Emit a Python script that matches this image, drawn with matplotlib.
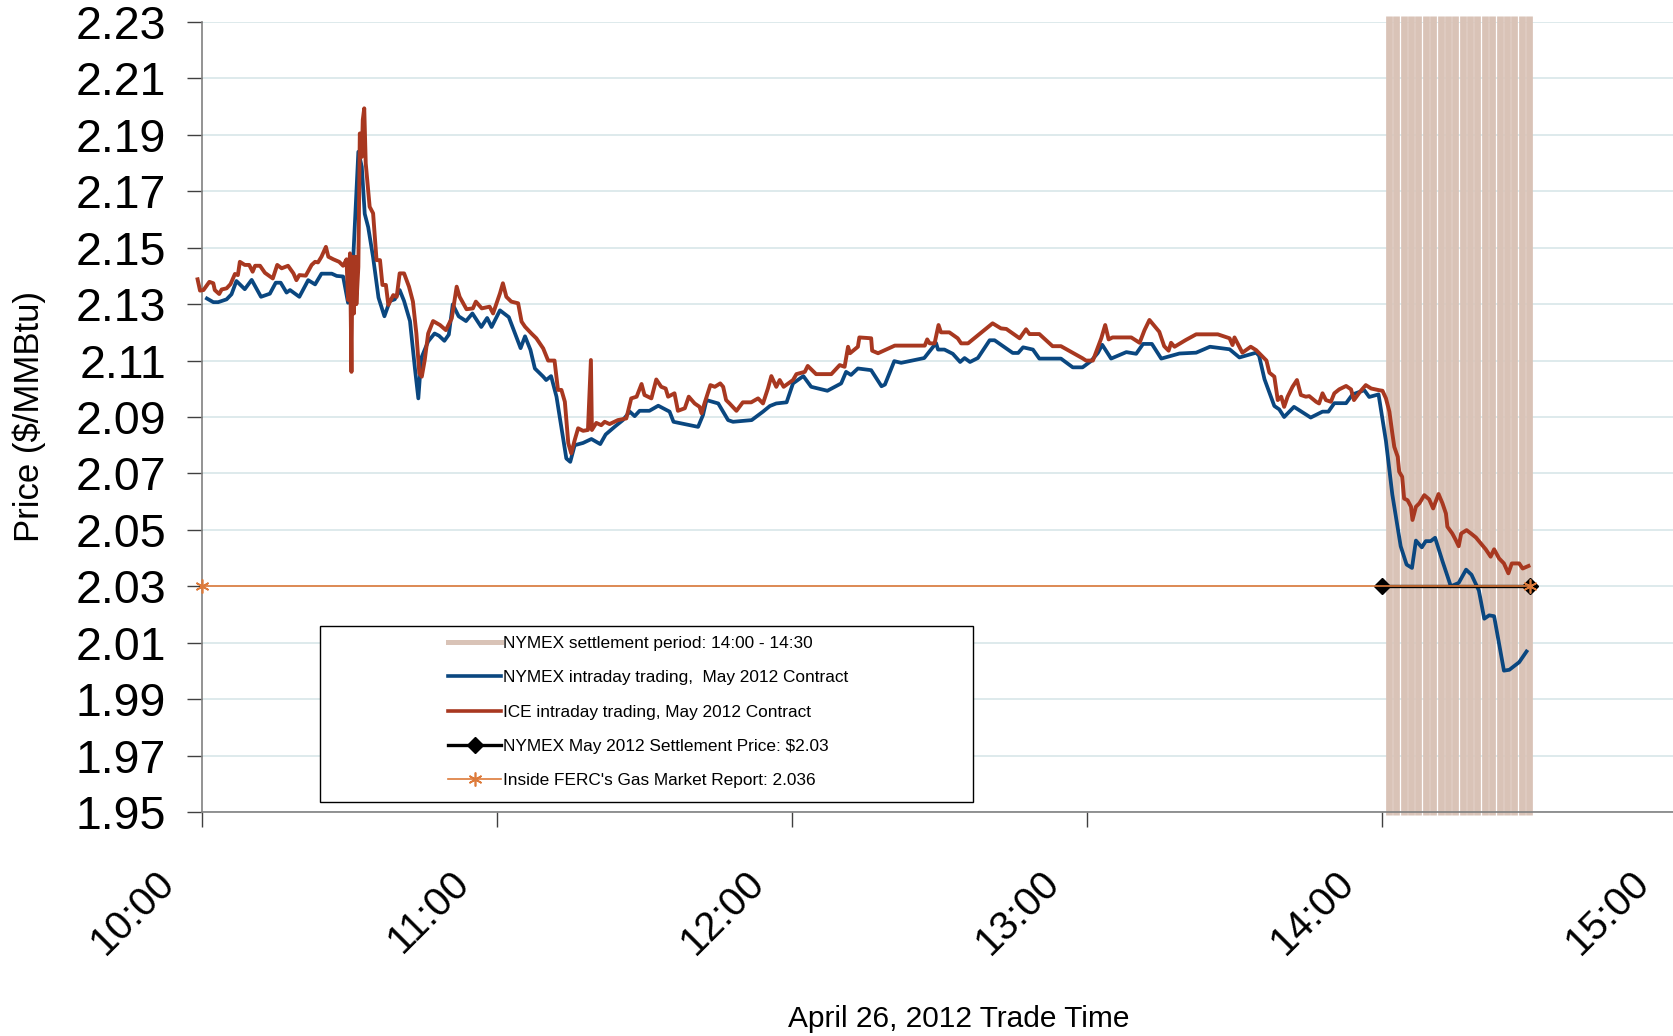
import matplotlib
matplotlib.use("Agg")
import matplotlib.pyplot as plt
import matplotlib.dates as md
import matplotlib.transforms as mtransforms
from matplotlib.lines import Line2D
from matplotlib.patches import Rectangle
import numpy as np
import pandas as pd

plt.rcParams["font.family"] = ["Liberation Sans", "DejaVu Sans"]

# trade day start, all times below are minutes after 10:00
day_start = pd.Timestamp("2012-04-26 10:00")

nymex_min = [1.0, 2.3, 3.3, 5.0, 6.0, 7.0, 8.7, 10.1, 12.0, 13.8, 15.0, 16.0, 17.2, 17.9, 19.8,
             21.6, 23.0, 24.3, 26.4, 27.4, 28.7, 29.7, 30.8, 31.8, 32.5, 33.1, 33.8, 34.8, 35.9,
             37.1, 38.2, 39.2, 40.2, 41.1, 42.3, 43.3, 44.0, 44.6, 46.0, 47.3, 48.2, 49.3, 50.2,
             51.0, 52.2, 53.7, 55.0, 56.8, 58.0, 58.9, 60.6, 62.4, 64.8, 65.7, 66.8, 67.7, 69.4,
             70.0, 71.0, 72.1, 73.4, 74.1, 74.9, 75.8, 77.5, 79.2, 81.0, 82.1, 83.9, 85.6, 87.0,
             88.0, 89.0, 91.0, 92.8, 95.1, 95.9, 100.9, 101.9, 102.6, 105.0, 107.0, 108.0, 111.8,
             114.1, 115.5, 116.8, 118.9, 120.2, 122.3, 123.9, 124.6, 127.2, 130.0, 131.0, 132.0,
             133.4, 136.1, 138.2, 138.9, 140.8, 142.2, 146.9, 149.3, 149.7, 151.0, 152.7, 154.2,
             155.1, 156.2, 157.8, 160.2, 161.2, 164.9, 166.0, 167.0, 169.0, 170.3, 174.7, 177.1,
             179.1, 180.8, 182.2, 183.1, 184.9, 188.0, 190.0, 191.4, 193.2, 195.1, 198.8, 202.2,
             205.0, 209.0, 211.0, 214.4, 215.0, 216.1, 218.1, 219.1, 220.1, 222.1, 225.5, 227.9,
             229.1, 230.3, 232.7, 234.0, 236.4, 237.4, 239.3, 240.8, 242.1, 243.8, 245.0, 246.1,
             246.9, 248.1, 248.9, 249.9, 250.8, 252.3, 254.0, 255.6, 257.1, 258.2, 259.7, 260.8,
             261.8, 262.8, 264.8, 265.9, 267.9, 269.4]
nymex_price = [2.1320, 2.1307, 2.1307, 2.1317, 2.1335, 2.1382, 2.1353, 2.1386, 2.1326, 2.1337,
               2.1376, 2.1376, 2.1341, 2.1350, 2.1326, 2.1385, 2.1370, 2.1408, 2.1408, 2.1400,
               2.1398, 2.1305, 2.1478, 2.1840, 2.1787, 2.1620, 2.1573, 2.1466, 2.1323, 2.1257,
               2.1311, 2.1317, 2.1350, 2.1311, 2.1240, 2.1073, 2.0966, 2.1109, 2.1168, 2.1196,
               2.1188, 2.1170, 2.1192, 2.1299, 2.1257, 2.1240, 2.1267, 2.1219, 2.1251, 2.1219,
               2.1278, 2.1254, 2.1144, 2.1186, 2.1138, 2.1072, 2.1043, 2.1031, 2.1045, 2.0972,
               2.0830, 2.0753, 2.0741, 2.0800, 2.0808, 2.0822, 2.0804, 2.0838, 2.0865, 2.0889,
               2.0919, 2.0903, 2.0922, 2.0922, 2.0940, 2.0919, 2.0883, 2.0865, 2.0907, 2.0960,
               2.0948, 2.0889, 2.0883, 2.0889, 2.0919, 2.0939, 2.0948, 2.0952, 2.1019, 2.1045,
               2.1007, 2.1004, 2.0993, 2.1019, 2.1060, 2.1049, 2.1072, 2.1066, 2.1009, 2.1015,
               2.1098, 2.1092, 2.1109, 2.1162, 2.1139, 2.1139, 2.1124, 2.1095, 2.1109, 2.1095,
               2.1109, 2.1172, 2.1172, 2.1127, 2.1127, 2.1147, 2.1139, 2.1107, 2.1107, 2.1076,
               2.1076, 2.1098, 2.1127, 2.1156, 2.1107, 2.1130, 2.1124, 2.1159, 2.1159, 2.1107,
               2.1125, 2.1128, 2.1149, 2.1140, 2.1111, 2.1128, 2.1117, 2.1034, 2.0939, 2.0927,
               2.0900, 2.0936, 2.0898, 2.0919, 2.0919, 2.0949, 2.0949, 2.0980, 2.0995, 2.0971,
               2.0980, 2.0815, 2.0625, 2.0442, 2.0377, 2.0365, 2.0462, 2.0438, 2.0460, 2.0460,
               2.0472, 2.0389, 2.0300, 2.0312, 2.0359, 2.0341, 2.0285, 2.0185, 2.0197, 2.0194,
               2.0001, 2.0004, 2.0031, 2.0069]

ice_min = [-0.9, -0.4, 0.3, 1.5, 2.3, 2.6, 3.5, 4.0, 5.0, 5.8, 6.7, 7.3, 7.7, 8.7, 9.6, 10.3,
           10.8, 11.8, 12.8, 14.4, 15.3, 16.2, 17.5, 18.6, 19.2, 19.8, 21.1, 22.3, 23.0, 23.6,
           24.3, 25.2, 25.7, 26.7, 27.9, 28.7, 29.4, 29.7, 30.1, 30.4, 30.6, 30.9, 31.2, 31.4,
           31.8, 32.1, 32.5, 32.7, 33.0, 33.3, 33.6, 34.1, 34.8, 35.5, 36.2, 36.7, 37.4, 37.9,
           38.9, 39.6, 40.2, 41.1, 42.1, 42.9, 43.6, 44.2, 44.7, 45.3, 46.0, 47.0, 48.4, 49.6,
           50.8, 51.8, 52.4, 53.8, 55.1, 55.7, 56.9, 58.5, 59.2, 60.6, 61.2, 61.9, 62.9, 64.3,
           65.0, 65.7, 67.0, 68.0, 69.4, 70.4, 71.7, 72.4, 73.1, 73.8, 74.5, 75.1, 75.8, 76.5,
           77.5, 78.5, 79.1, 79.3, 80.2, 81.2, 81.9, 82.9, 84.6, 86.3, 87.3, 88.4, 89.4, 90.0,
           91.4, 92.4, 93.4, 94.3, 94.8, 96.1, 96.8, 98.2, 99.0, 100.2, 101.2, 101.6, 102.2,
           103.4, 104.3, 105.4, 106.0, 106.6, 107.3, 108.7, 110.0, 111.7, 113.1, 114.1, 115.1,
           115.8, 116.8, 117.5, 118.3, 120.2, 120.9, 122.6, 123.2, 124.9, 128.0, 129.7, 130.7,
           131.4, 131.8, 133.4, 133.7, 136.1, 136.3, 137.5, 140.9, 147.0, 147.5, 148.0, 149.0,
           149.8, 150.3, 152.0, 153.7, 154.4, 155.8, 160.8, 162.5, 163.6, 166.3, 167.6, 168.3,
           170.3, 173.0, 174.7, 179.1, 179.8, 181.2, 182.9, 183.7, 184.4, 185.2, 189.0, 190.7,
           191.7, 192.7, 194.7, 195.7, 196.6, 197.1, 197.8, 200.1, 202.2, 206.6, 209.0, 209.6,
           210.0, 211.6, 213.3, 214.4, 216.5, 217.1, 218.1, 218.8, 219.5, 220.1, 220.8, 221.8,
           222.7, 223.5, 224.5, 225.2, 226.6, 227.2, 227.9, 228.6, 229.6, 230.3, 231.3, 232.7,
           233.7, 234.3, 235.7, 236.7, 237.8, 239.4, 240.1, 240.8, 241.5, 242.1, 242.5, 243.2,
           243.5, 244.1, 244.5, 245.2, 245.9, 246.2, 246.9, 247.6, 248.6, 249.6, 250.4, 251.5,
           252.3, 253.0, 253.3, 254.3, 255.0, 255.6, 256.1, 257.2, 258.1, 259.1, 260.1, 261.1,
           262.1, 262.8, 263.8, 264.8, 265.7, 266.4, 267.9, 268.6, 269.8]
ice_price = [2.1388, 2.1348, 2.1350, 2.1379, 2.1374, 2.1350, 2.1336, 2.1352, 2.1356, 2.1371,
             2.1407, 2.1403, 2.1450, 2.1439, 2.1439, 2.1415, 2.1436, 2.1436, 2.1411, 2.1391,
             2.1439, 2.1427, 2.1436, 2.1409, 2.1385, 2.1403, 2.1401, 2.1439, 2.1450, 2.1448,
             2.1468, 2.1503, 2.1468, 2.1459, 2.1450, 2.1436, 2.1459, 2.1315, 2.1480, 2.1060,
             2.1468, 2.1267, 2.1468, 2.1300, 2.1432, 2.1905, 2.1822, 2.1953, 2.1994, 2.1799,
             2.1740, 2.1645, 2.1622, 2.1456, 2.1456, 2.1368, 2.1368, 2.1297, 2.1332, 2.1326,
             2.1409, 2.1409, 2.1362, 2.1309, 2.1196, 2.1055, 2.1043, 2.1102, 2.1196, 2.1240,
             2.1226, 2.1208, 2.1250, 2.1362, 2.1326, 2.1282, 2.1285, 2.1309, 2.1285, 2.1291,
             2.1267, 2.1338, 2.1374, 2.1326, 2.1309, 2.1303, 2.1238, 2.1220, 2.1196, 2.1179,
             2.1143, 2.1100, 2.1100, 2.0996, 2.0996, 2.0954, 2.0807, 2.0771, 2.0818, 2.0860,
             2.0851, 2.0854, 2.1102, 2.0854, 2.0879, 2.0871, 2.0883, 2.0875, 2.0889, 2.0895,
             2.0966, 2.0972, 2.1017, 2.0978, 2.0966, 2.1033, 2.1007, 2.1001, 2.0972, 2.0984,
             2.0922, 2.0931, 2.0972, 2.0948, 2.0936, 2.0913, 2.0948, 2.1013, 2.1007, 2.1019,
             2.1007, 2.0960, 2.0948, 2.0922, 2.0952, 2.0952, 2.0966, 2.0948, 2.1001, 2.1045,
             2.1007, 2.1031, 2.1007, 2.1031, 2.1052, 2.1060, 2.1081, 2.1052, 2.1052, 2.1084,
             2.1078, 2.1149, 2.1126, 2.1149, 2.1182, 2.1179, 2.1135, 2.1126, 2.1153, 2.1153,
             2.1175, 2.1161, 2.1161, 2.1226, 2.1200, 2.1200, 2.1179, 2.1161, 2.1161, 2.1232,
             2.1214, 2.1212, 2.1179, 2.1211, 2.1194, 2.1194, 2.1151, 2.1151, 2.1108, 2.1100,
             2.1100, 2.1179, 2.1226, 2.1175, 2.1182, 2.1182, 2.1163, 2.1208, 2.1244, 2.1202,
             2.1151, 2.1135, 2.1163, 2.1149, 2.1173, 2.1193, 2.1193, 2.1179, 2.1155, 2.1182,
             2.1128, 2.1149, 2.1137, 2.1100, 2.1057, 2.1043, 2.0960, 2.0972, 2.0936, 2.0972,
             2.1007, 2.1031, 2.0978, 2.0972, 2.0974, 2.0954, 2.0948, 2.0984, 2.0960, 2.0954,
             2.0984, 2.0998, 2.1010, 2.0998, 2.0960, 2.0993, 2.1013, 2.1001, 2.0995, 2.0993,
             2.0966, 2.0919, 2.0842, 2.0794, 2.0759, 2.0706, 2.0688, 2.0611, 2.0605, 2.0582,
             2.0535, 2.0582, 2.0594, 2.0623, 2.0608, 2.0576, 2.0627, 2.0594, 2.0558, 2.0511,
             2.0487, 2.0464, 2.0442, 2.0487, 2.0499, 2.0487, 2.0473, 2.0452, 2.0431, 2.0405,
             2.0431, 2.0399, 2.0381, 2.0346, 2.0381, 2.0381, 2.0363, 2.0372]

# settlement window 14:00 - 14:30, drawn as a band of vertical bars
settle_marks = [241.4, 242.9, 244.4, 245.9, 247.4, 248.9, 250.4, 251.9, 253.4, 254.9,
                256.4, 257.9, 259.4, 260.9, 262.4, 263.9, 265.4, 266.9, 268.4, 269.9]
settle_line_min = [240.0, 270.0]
settle_price = 2.03
ferc_line_min = [0.0, 270.0]
ferc_price = 2.03

legend_labels = ["NYMEX settlement period: 14:00 - 14:30",
                 "NYMEX intraday trading,  May 2012 Contract",
                 "ICE intraday trading, May 2012 Contract",
                 "NYMEX May 2012 Settlement Price: $2.03",
                 "Inside FERC's Gas Market Report: 2.036"]

blue = "#0a4780"
red = "#a83820"
tan = "#d9c3b7"
orange = "#dd7a3a"
grid_c = "#dbe8ea"


def to_time(minutes):
    return day_start + pd.to_timedelta(minutes, unit="m")


fig = plt.figure(figsize=(16.74, 10.36), dpi=100)
ax = fig.add_axes([202 / 1674, 224 / 1036, 1475 / 1674, 790 / 1036])

ax.vlines(to_time(settle_marks), 1.9489, 2.2321, colors=tan, linewidth=4.85,
          clip_on=False, zorder=1)
ax.plot(to_time(nymex_min), nymex_price, color=blue, lw=2.7, zorder=3)
ax.plot(to_time(ice_min), ice_price, color=red, lw=2.8, zorder=4, clip_on=False)
ax.plot(to_time(settle_line_min), [settle_price] * 2, color="black", lw=2.4,
        marker="D", ms=8, zorder=5)
ax.plot(to_time(ferc_line_min), [ferc_price] * 2, color=orange, lw=1.2,
        marker=(6, 2, 0), ms=10, mew=1.2, zorder=6, clip_on=False)

ax.set_xlim(to_time(0), to_time(300))
ax.set_ylim(1.95, 2.23)
ax.set_yticks(np.round(np.arange(1.95, 2.2301, 0.02), 2))
ax.yaxis.set_major_formatter(plt.FormatStrFormatter("%.2f"))
ax.xaxis.set_major_locator(md.HourLocator())
ax.xaxis.set_major_formatter(md.DateFormatter("%H:%M"))

ax.set_axisbelow(True)
ax.yaxis.grid(True, color=grid_c, lw=1.3)
for side in ["top", "right"]:
    ax.spines[side].set_visible(False)
for side in ["left", "bottom"]:
    ax.spines[side].set_color("#808080")
    ax.spines[side].set_linewidth(1.2)

ax.tick_params(axis="y", labelsize=33.5, length=11, width=1, pad=15, color="#404040")
ax.tick_params(axis="x", labelsize=29, length=11, width=1, pad=26, color="#404040")

shift = mtransforms.ScaledTranslation(-20 / 100, 0, fig.dpi_scale_trans)
for lab in ax.get_xticklabels():
    lab.set_rotation(45)
    lab.set_ha("right")
    lab.set_va("top")
    lab.set_transform(lab.get_transform() + shift)

ax.set_ylabel("Price ($/MMBtu)", fontsize=25, va="center")
ax.yaxis.set_label_coords(-(202 - 29) / 1475, (812 - 416) / 790)
ax.set_xlabel("April 26, 2012 Trade Time", fontsize=21.5, va="center")
ax.xaxis.set_label_coords((959 - 202) / 1475, -(1019 - 812) / 790)

# legend with a wide box around it
box = Rectangle((320 / 1674, 1 - 802 / 1036), (973 - 320) / 1674, (802 - 626) / 1036,
                transform=fig.transFigure, facecolor="white", edgecolor="black",
                lw=1, zorder=4.8, clip_on=False)
ax.add_artist(box)

handles = [Line2D([], [], color=tan, lw=3.6),
           Line2D([], [], color=blue, lw=2.6),
           Line2D([], [], color=red, lw=2.6),
           Line2D([], [], color="black", lw=2.4, marker="D", ms=8),
           Line2D([], [], color=orange, lw=1.2, marker=(6, 2, 0), ms=10, mew=1.2)]
ax.legend(handles, legend_labels, loc="upper left",
          bbox_to_anchor=(448 / 1674, 1 - 636 / 1036), bbox_transform=fig.transFigure,
          frameon=False, fontsize=12.4, handlelength=3.1, handletextpad=0.1,
          labelspacing=1.12, borderpad=0, borderaxespad=0)

fig.savefig("out.png", dpi=100)
